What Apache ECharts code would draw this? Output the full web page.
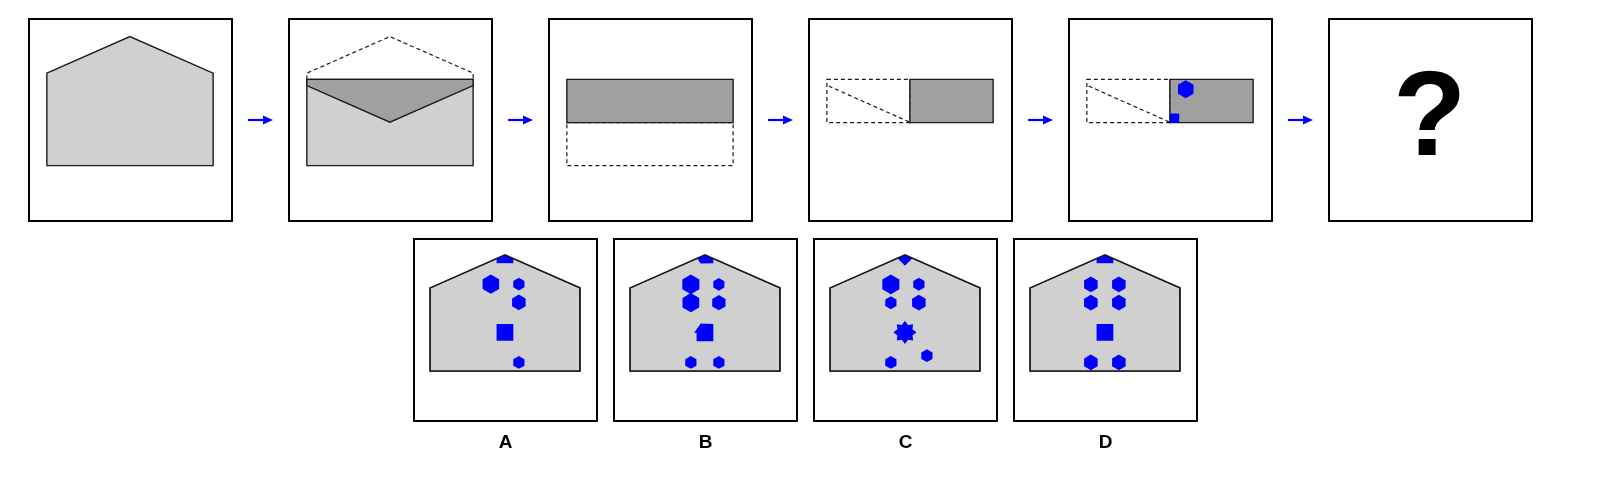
<!DOCTYPE html>
<html>
<head>
<meta charset="utf-8">
<script src="https://cdn.jsdelivr.net/npm/echarts@6/dist/echarts.min.js"></script>
<style>
html, body { margin: 0; padding: 0; background: #fff; }
#chart { width: 1610px; height: 490px; }
</style>
</head>
<body>
<div id="chart"></div>
<script>
// panel units: x to the right, y downwards, both 0..1 inside a box
var stepNames = ['step1', 'step2', 'step3', 'step4', 'step5', 'question'];
var choiceLabels = ['A', 'B', 'C', 'D'];

// envelope outlines
var envelope = [[0.088, 0.268], [0.497, 0.087], [0.907, 0.268], [0.907, 0.726], [0.088, 0.726]];
var roofMask = [[0.088, 0.268], [0.497, 0.087], [0.907, 0.268], [0.907, 0.01], [0.088, 0.01]];
var flapDashed = [[0.088, 0.299], [0.088, 0.268], [0.497, 0.087], [0.907, 0.268], [0.907, 0.299]];
var bodyRect = [[0.088, 0.299], [0.907, 0.299], [0.907, 0.726], [0.088, 0.726]];
var flapFolded = [[0.088, 0.299], [0.907, 0.299], [0.907, 0.330], [0.497, 0.511], [0.088, 0.330]];
var topHalf = [[0.088, 0.299], [0.907, 0.299], [0.907, 0.513], [0.088, 0.513]];
var bottomHalf = [[0.088, 0.513], [0.907, 0.513], [0.907, 0.726], [0.088, 0.726]];
var leftQuarter = [[0.088, 0.299], [0.497, 0.299], [0.497, 0.513], [0.088, 0.513]];
var rightQuarter = [[0.497, 0.299], [0.907, 0.299], [0.907, 0.513], [0.497, 0.513]];
var flapCrease = [[0.097, 0.332], [0.497, 0.511]];

// what each step shows: [kind, outline]
var step1 = [['light', envelope]];
var step2 = [['dash', flapDashed], ['light', bodyRect], ['dark', flapFolded]];
var step3 = [['dashbox', bottomHalf], ['dark', topHalf]];
var step4 = [['dashbox', leftQuarter], ['dash', flapCrease], ['dark', rightQuarter]];
var step5 = [['dashbox', leftQuarter], ['dash', flapCrease], ['dark', rightQuarter]];

// punched holes: [shape, x, y, size]
var step5Holes = [['hex', 0.575, 0.348, 0.089], ['square', 0.520, 0.491, 0.046]];
var choiceA = [['square', 0.497, 0.087, 0.092], ['hex', 0.420, 0.248, 0.105], ['hex', 0.573, 0.248, 0.071],
  ['hex', 0.573, 0.348, 0.086], ['square', 0.497, 0.513, 0.092], ['hex', 0.573, 0.678, 0.071]];
var choiceB = [['notchUp', 0.497, 0.087, 0.092], ['hex', 0.420, 0.249, 0.108], ['hex', 0.420, 0.350, 0.106],
  ['hex', 0.573, 0.249, 0.070], ['hex', 0.573, 0.350, 0.084], ['notch', 0.497, 0.513, 0.092],
  ['hex', 0.420, 0.678, 0.071], ['hex', 0.573, 0.678, 0.071]];
var choiceC = [['diamond', 0.497, 0.087, 0.120], ['hex', 0.420, 0.249, 0.108], ['hex', 0.573, 0.249, 0.071],
  ['hex', 0.420, 0.350, 0.071], ['hex', 0.573, 0.350, 0.086], ['star', 0.497, 0.513, 0.127],
  ['hex', 0.420, 0.678, 0.071], ['hex', 0.617, 0.641, 0.071]];
var choiceD = [['square', 0.497, 0.087, 0.092], ['hex', 0.420, 0.249, 0.086], ['hex', 0.573, 0.249, 0.086],
  ['hex', 0.420, 0.350, 0.086], ['hex', 0.573, 0.350, 0.086], ['square', 0.497, 0.513, 0.092],
  ['hex', 0.420, 0.678, 0.086], ['hex', 0.573, 0.678, 0.086]];

var BLUE = '#0000ff';
var LINE = '#1a1a1a';

// hole outlines, in half-size units around the centre
function holeShape(kind) {
  var p = [], k, a;
  if (kind == 'hex') {
    for (k = 0; k < 6; k++) { a = (-90 + 60 * k) * Math.PI / 180; p.push([Math.cos(a), Math.sin(a)]); }
  } else if (kind == 'star') {
    for (k = 0; k < 16; k++) {
      a = (-90 + 22.5 * k) * Math.PI / 180;
      var r = k % 2 ? 0.7 : 1;
      p.push([r * Math.cos(a), r * Math.sin(a)]);
    }
  } else if (kind == 'diamond') {
    p = [[0, -1], [1, 0], [0, 1], [-1, 0]];
  } else if (kind == 'notch') {
    p = [[-0.5, -1.05], [1, -1], [1, 1.05], [-1, 1.05], [-1, 0.05], [-1.3, 0.05]];
  } else if (kind == 'notchUp') {
    p = [[-0.5, 1.05], [1, 1], [1, -1.05], [-1, -1.05], [-1, -0.05], [-1.3, -0.05]];
  } else {
    p = [[-1, -1], [1, -1], [1, 1], [-1, 1]];
  }
  return p;
}

function outlineEl(kind, pts, api) {
  var px = pts.map(function (p) { return api.coord(p); });
  if (kind == 'light' || kind == 'dark') {
    return { type: 'polygon', z2: kind == 'dark' ? 3 : 2, shape: { points: px },
      style: { fill: kind == 'dark' ? '#a0a0a0' : '#d0d0d0', stroke: LINE, lineWidth: 1.4 } };
  }
  if (kind == 'dashbox') {
    return { type: 'polygon', z2: 1, shape: { points: px },
      style: { fill: null, stroke: LINE, lineWidth: 1.2, lineDash: [4, 3] } };
  }
  if (kind == 'mask') {
    return { type: 'polygon', z2: 6, shape: { points: px }, style: { fill: '#fff' } };
  }
  if (kind == 'edge') {
    return { type: 'polygon', z2: 7, shape: { points: px }, style: { fill: null, stroke: LINE, lineWidth: 1.4 } };
  }
  return { type: 'polyline', z2: 4, shape: { points: px },
    style: { fill: null, stroke: LINE, lineWidth: 1.2, lineDash: [4, 3] } };
}

function holeEl(h, api) {
  var c = api.coord([h[1], h[2]]);
  var half = api.size([0, h[3]])[1] / 2;
  var pts = holeShape(h[0]).map(function (q) { return [c[0] + q[0] * half, c[1] + q[1] * half]; });
  return { type: 'polygon', z2: 5, shape: { points: pts }, style: { fill: BLUE } };
}

function arrowEl(api) {
  var a = api.coord([1.079, 0.5]), b = api.coord([1.202, 0.5]);
  return { type: 'group', children: [
    { type: 'line', shape: { x1: a[0], y1: a[1], x2: b[0] - 8, y2: b[1] }, style: { stroke: BLUE, lineWidth: 2.2 } },
    { type: 'polygon', shape: { points: [[b[0] - 10, b[1] - 4.5], [b[0], b[1]], [b[0] - 10, b[1] + 4.5]] }, style: { fill: BLUE } }
  ] };
}

function textEl(str, at, size, api) {
  var c = api.coord(at);
  return { type: 'text', z2: 8, x: c[0], y: c[1],
    style: { text: str, fill: '#000', font: 'bold ' + size + 'px "Liberation Sans", Arial, sans-serif',
      align: 'center', verticalAlign: 'middle' } };
}

// list of drawing items per box
var boxes = [];
var stepParts = [step1, step2, step3, step4, step5, []];
stepNames.forEach(function (name, i) {
  var items = stepParts[i].map(function (s) { return { t: 'outline', kind: s[0], pts: s[1] }; });
  if (name == 'step5') step5Holes.forEach(function (h) { items.push({ t: 'hole', h: h }); });
  if (name == 'question') items.push({ t: 'text', str: '?', at: [0.496, 0.508], size: 120 });
  if (i < stepNames.length - 1) items.push({ t: 'arrow' });
  boxes.push({ left: 29 + i * 260, top: 19, width: 203, height: 202, items: items });
});
var choices = [choiceA, choiceB, choiceC, choiceD];
choiceLabels.forEach(function (lab, j) {
  var items = [{ t: 'outline', kind: 'light', pts: envelope }];
  choices[j].forEach(function (h) { items.push({ t: 'hole', h: h }); });
  items.push({ t: 'outline', kind: 'mask', pts: roofMask });
  items.push({ t: 'outline', kind: 'edge', pts: envelope });
  items.push({ t: 'text', str: lab, at: [0.5, 1.122], size: 19 });
  boxes.push({ left: 414 + j * 200, top: 239, width: 183, height: 182, items: items });
});

var grids = [], xAxes = [], yAxes = [], series = [];
boxes.forEach(function (b, g) {
  grids.push({ left: b.left, top: b.top, width: b.width, height: b.height, show: true,
    backgroundColor: '#fff', borderColor: '#000', borderWidth: 2 });
  xAxes.push({ gridIndex: g, type: 'value', min: 0, max: 1, show: false });
  yAxes.push({ gridIndex: g, type: 'value', min: 0, max: 1, inverse: true, show: false });
  series.push({
    type: 'custom', xAxisIndex: g, yAxisIndex: g, clip: false, silent: true,
    data: b.items.map(function (it, i) { return [i]; }),
    renderItem: function (params, api) {
      var it = b.items[params.dataIndex];
      if (it.t == 'outline') return outlineEl(it.kind, it.pts, api);
      if (it.t == 'hole') return holeEl(it.h, api);
      if (it.t == 'arrow') return arrowEl(api);
      return textEl(it.str, it.at, it.size, api);
    }
  });
});

var myChart = echarts.init(document.getElementById('chart'), null, { renderer: 'canvas' });
myChart.setOption({
  animation: false,
  backgroundColor: '#fff',
  grid: grids,
  xAxis: xAxes,
  yAxis: yAxes,
  series: series
});
</script>
</body>
</html>
